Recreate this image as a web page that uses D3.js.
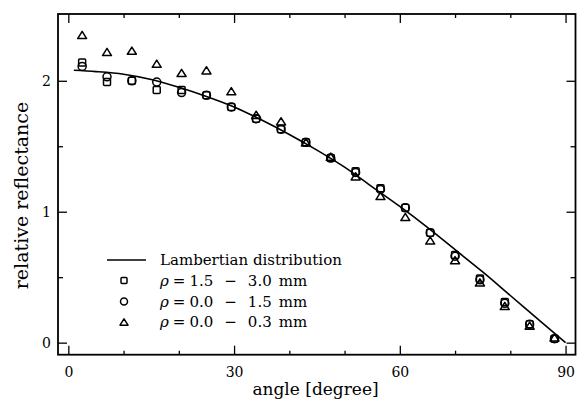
<!DOCTYPE html>
<html><head><meta charset="utf-8">
<script src="https://cdn.jsdelivr.net/npm/d3@7"></script>
<style>
html,body{margin:0;padding:0;background:#fff;}
svg{display:block;}
text{font-family:"DejaVu Serif",serif;fill:#000;}
</style></head>
<body>
<svg id="chart" width="577" height="402"></svg>
<script>
// ---- data ----
const angles = [2.5, 7, 11.5, 16, 20.5, 25, 29.5, 34, 38.5, 43, 47.5, 52, 56.5, 61, 65.5, 70, 74.5, 79, 83.5, 88];
const squares = [2.14, 1.99, 2.00, 1.93, 1.93, 1.89, 1.80, 1.71, 1.63, 1.53, 1.41, 1.31, 1.18, 1.03, 0.84, 0.67, 0.49, 0.31, 0.14, 0.03];
const circles = [2.11, 2.03, 2.00, 1.99, 1.91, 1.89, 1.80, 1.71, 1.63, 1.53, 1.41, 1.30, 1.17, 1.03, 0.84, 0.66, 0.48, 0.30, 0.14, 0.03];
const triangles = [2.35, 2.22, 2.23, 2.13, 2.06, 2.08, 1.92, 1.74, 1.69, 1.53, 1.42, 1.27, 1.12, 0.96, 0.78, 0.63, 0.46, 0.28, 0.13, 0.04];
const lineAngles = [1, 5, 10, 15, 20, 25, 30, 35, 40, 45, 50, 55, 60, 65, 70, 75, 80, 85, 90];
const lineValues = [2.08, 2.07, 2.05, 2.01, 1.95, 1.88, 1.80, 1.70, 1.59, 1.47, 1.34, 1.19, 1.04, 0.88, 0.71, 0.54, 0.36, 0.18, 0.0];
const xMajorTicks = [0, 30, 60, 90];
const xMinorTicks = [10, 20, 40, 50, 70, 80];
const yMajorTicks = [0, 1, 2];
const yMinorTicks = [0.5, 1.5];
const lineLabel = "Lambertian distribution";
const rhoRanges = [["1.5", "3.0"], ["0.0", "1.5"], ["0.0", "0.3"]];
const xTitle = "angle [degree]";
const yTitle = "relative reflectance";

// ---- layout ----
const FONT = '"DejaVu Serif",serif';
const svg = d3.select("#chart");
const L = 58, R = 575.5, T = 14, B = 354.7;
const x = d3.scaleLinear().domain([-1.87, 91.8]).range([L, R]);
const y = d3.scaleLinear().domain([-0.092, 2.51]).range([B, T]);

function axisGroup(axis, tx, ty) {
  const g = svg.append("g").attr("transform", `translate(${tx},${ty})`).call(axis);
  g.attr("font-family", FONT);
  g.select(".domain").remove();
  g.selectAll(".tick line").attr("stroke", "#000").attr("stroke-width", 1.3);
  g.selectAll("text").style("font-size", "14px").style("font-family", FONT).attr("fill", "#000");
  return g;
}
// bottom
const gb = axisGroup(d3.axisBottom(x).tickValues(xMajorTicks).tickSize(-9).tickPadding(0).tickFormat(d3.format("d")), 0, B);
gb.selectAll("text").attr("y", 22).attr("dy", 0);
axisGroup(d3.axisBottom(x).tickValues(xMinorTicks).tickSize(-4).tickFormat(""), 0, B);
// top
axisGroup(d3.axisTop(x).tickValues(xMajorTicks).tickSize(-9).tickFormat(""), 0, T);
axisGroup(d3.axisTop(x).tickValues(xMinorTicks).tickSize(-4).tickFormat(""), 0, T);
// left
const gl = axisGroup(d3.axisLeft(y).tickValues(yMajorTicks).tickSize(-9).tickPadding(0).tickFormat(d3.format("d")), L, 0);
gl.selectAll("text").attr("x", -7).attr("dy", "0.36em");
axisGroup(d3.axisLeft(y).tickValues(yMinorTicks).tickSize(-5).tickFormat(""), L, 0);
// right
axisGroup(d3.axisRight(y).tickValues(yMajorTicks).tickSize(-9).tickFormat(""), R, 0);
axisGroup(d3.axisRight(y).tickValues(yMinorTicks).tickSize(-5).tickFormat(""), R, 0);

// frame
svg.append("rect").attr("x", L).attr("y", T).attr("width", R - L).attr("height", B - T)
  .attr("fill", "none").attr("stroke", "#000").attr("stroke-width", 1.8);

// Lambertian line
const lineData = lineAngles.map((a, i) => [a, lineValues[i]]);
svg.append("path").datum(lineData)
  .attr("d", d3.line().x(d => x(d[0])).y(d => y(d[1])).curve(d3.curveMonotoneX))
  .attr("fill", "none").attr("stroke", "#000").attr("stroke-width", 1.6);

// markers
const sw = 1.5;
function square(g, cx, cy, s) {
  g.append("rect").attr("x", cx - s / 2).attr("y", cy - s / 2).attr("width", s).attr("height", s)
    .attr("rx", 1).attr("fill", "none").attr("stroke", "#000").attr("stroke-width", sw);
}
function circle(g, cx, cy, r) {
  g.append("circle").attr("cx", cx).attr("cy", cy).attr("r", r)
    .attr("fill", "none").attr("stroke", "#000").attr("stroke-width", sw);
}
function triangle(g, cx, cy, s) {
  const h = s * 0.8;
  g.append("path").attr("d", `M${cx - s / 2},${cy + h / 2}L${cx + s / 2},${cy + h / 2}L${cx},${cy - h / 2}Z`)
    .attr("fill", "none").attr("stroke", "#000").attr("stroke-width", sw).attr("stroke-linejoin", "round");
}
const gm = svg.append("g");
angles.forEach((a, i) => square(gm, x(a), y(squares[i]), 7));
angles.forEach((a, i) => circle(gm, x(a), y(circles[i]), 4));
angles.forEach((a, i) => triangle(gm, x(a), y(triangles[i]), 9));

// legend
const lg = svg.append("g");
const rows = [260, 280.5, 301.5, 322];
lg.append("line").attr("x1", 107).attr("x2", 146).attr("y1", rows[0]).attr("y2", rows[0])
  .attr("stroke", "#000").attr("stroke-width", 1.6);
square(lg, 124, rows[1], 6);
circle(lg, 124, rows[2], 3.5);
triangle(lg, 124, rows[3], 8);
lg.append("text").attr("x", 160).attr("y", rows[0] + 5).style("font-size", "15px").text(lineLabel);
rhoRanges.forEach((r, k) => {
  const t = lg.append("text").attr("x", 160).attr("y", rows[k + 1] + 5).style("font-size", "15px");
  t.append("tspan").style("font-style", "italic").text("\u03C1");
  t.append("tspan").attr("dx", 4).text("=");
  t.append("tspan").attr("dx", 4).text(r[0]);
  t.append("tspan").attr("dx", 11).text("\u2212");
  t.append("tspan").attr("dx", 11).text(r[1]);
  t.append("tspan").attr("dx", 7).text("mm");
});

// axis titles
svg.append("text").attr("x", 315.5).attr("y", 395).attr("text-anchor", "middle")
  .style("font-size", "17px").text(xTitle);
svg.append("text").attr("transform", "translate(28,195.5) rotate(-90)").attr("text-anchor", "middle")
  .style("font-size", "19px").text(yTitle);
</script>
</body></html>
